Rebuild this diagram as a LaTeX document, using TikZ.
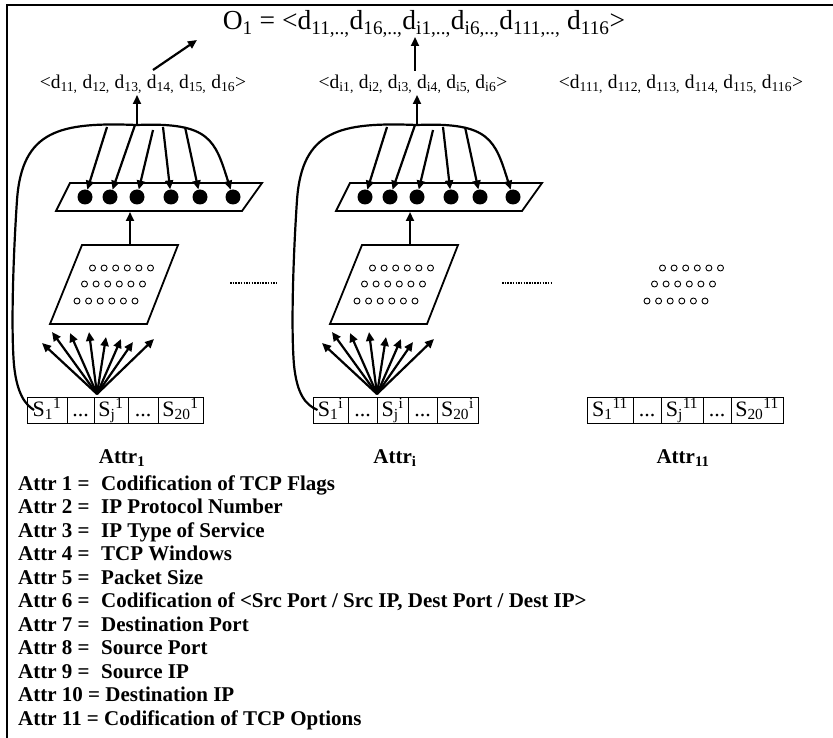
\documentclass[tikz,border=0pt]{standalone}
\usepackage{fontspec}
\setmainfont{Liberation Serif}
\usetikzlibrary{arrows.meta}
\tikzset{
  arr/.style={line width=2.2pt,-{Triangle[length=9pt,width=8pt]}},
  wire/.style={line width=2.2pt},
  para/.style={draw,line width=1.8pt},
  bigdot/.style={circle,fill=black,inner sep=0pt,minimum size=15pt},
  smallring/.style={circle,draw,line width=0.9pt,inner sep=0pt,minimum size=6pt},
  cell/.style={draw,line width=1pt,minimum height=26pt,inner sep=0pt,text height=17pt,text depth=4pt,font=\fontsize{22pt}{24pt}\selectfont},
  lab/.style={font=\bfseries\fontsize{21pt}{24pt}\selectfont,inner sep=0pt},
  vectxt/.style={font=\fontsize{19.5pt}{22pt}\selectfont,inner sep=0pt},
  dotline/.style={line width=2pt,dash pattern=on 1.5pt off 1.2pt},
}
\newcommand{\attrgroup}[2]{%
\begin{scope}[xshift=#2pt]
  \coordinate (#1top) at (137,125);
  \coordinate (#1up) at (137,95);
  \draw[arr] (#1top) -- (#1up);
  % output layer
  \draw[para] (70,183) -- (262,183) -- (242,211) -- (56,211) -- cycle;
  \foreach \k/\xx in {1/85,2/110,3/137,4/171,5/200,6/233}
    \node[bigdot] (#1o\k) at (\xx,197) {};
  % curves from the top point
  \draw[wire] (#1top) .. controls (60,122) and (22,130) .. (17,200)
     .. controls (13,260) and (11,330) .. (14,365)
     .. controls (17,395) and (26,405) .. ([xshift=-13pt]#1c1.center);
  \draw[arr] (#1top) .. controls (210,122) and (215,140) .. (#1o6);
  \coordinate (#1a1) at (107,127);
  \coordinate (#1a2) at (135,125);
  \coordinate (#1a3) at (153,130);
  \coordinate (#1a4) at (163,127);
  \coordinate (#1a5) at (185,127);
  \foreach \k in {1,...,5} \draw[arr] (#1a\k) -- (#1o\k);
  % hidden layer
  \draw[para] (82,245) -- (178,245) -- (147,324) -- (50,324) -- cycle;
  \coordinate (#1hid) at (130,245);
  \coordinate (#1out) at (130,212);
  \draw[arr] (#1hid) -- (#1out);
  \foreach \r/\xs/\yy in {0/92.5/268,1/84.5/284,2/77/301}
    \foreach \k in {0,...,5}
      \node[smallring] (#1h\r\k) at (\xs+11.6*\k,\yy) {};
  % fan from S_j
  \coordinate (#1fb) at (97,394);
  \foreach \k/\tx/\ty in {1/42/343,2/52/332,3/70/333,4/89/332,5/106/337,6/121/339,7/133/342,8/154/339}{
    \coordinate (#1f\k) at (\tx,\ty);
    \draw[arr] (#1fb) -- (#1f\k);
  }
\end{scope}}

\begin{document}
\begin{tikzpicture}[x=1pt,y=-1pt]
\useasboundingbox (0,0) rectangle (833,738);
% frame
\draw[line width=2.5pt] (833,5) -- (7,5) -- (7,738);

% title and output vectors
\node[font=\fontsize{27.5pt}{30pt}\selectfont,inner sep=0pt] (title) at (424,24)
  {O\textsubscript{1} = <d\textsubscript{11,..,}d\textsubscript{16,..,}d\textsubscript{i1,..,}d\textsubscript{i6,..,}d\textsubscript{111,..,} d\textsubscript{116}>};
\node[vectxt] (v1) at (143,84) {<d\textsubscript{11,} d\textsubscript{12,} d\textsubscript{13,} d\textsubscript{14,} d\textsubscript{15,} d\textsubscript{16}>};
\node[vectxt] (vi) at (413,84) {<d\textsubscript{i1,} d\textsubscript{i2,} d\textsubscript{i3,} d\textsubscript{i4,} d\textsubscript{i5,} d\textsubscript{i6}>};
\node[vectxt] (v11) at (681,84) {<d\textsubscript{111,} d\textsubscript{112,} d\textsubscript{113,} d\textsubscript{114,} d\textsubscript{115,} d\textsubscript{116}>};
\coordinate (d1s) at (153,70);
\coordinate (d1e) at (197,40);
\draw[arr] (d1s) -- (d1e);
\coordinate (dis) at (415,71);
\coordinate (die) at (415,37);
\draw[arr] (dis) -- (die);

% S rows
\node[cell,minimum width=40pt] (g1c1) at (47,410) {S\textsubscript{1}\textsuperscript{1}};
\node[cell,minimum width=27pt] (g1c2) at (80.5,410) {...};
\node[cell,minimum width=34pt] (g1c3) at (111,410) {S\textsubscript{j}\textsuperscript{1}};
\node[cell,minimum width=30pt] (g1c4) at (143,410) {...};
\node[cell,minimum width=45pt] (g1c5) at (180.5,410) {S\textsubscript{20}\textsuperscript{1}};

\node[cell,minimum width=35pt] (gic1) at (330.5,410) {S\textsubscript{1}\textsuperscript{i}};
\node[cell,minimum width=29pt] (gic2) at (362.5,410) {...};
\node[cell,minimum width=31pt] (gic3) at (392.5,410) {S\textsubscript{j}\textsuperscript{i}};
\node[cell,minimum width=29pt] (gic4) at (422.5,410) {...};
\node[cell,minimum width=41pt] (gic5) at (457.5,410) {S\textsubscript{20}\textsuperscript{i}};

\node[cell,minimum width=46pt] (gkc1) at (610,410) {S\textsubscript{1}\textsuperscript{11}};
\node[cell,minimum width=28pt] (gkc2) at (647,410) {...};
\node[cell,minimum width=42pt] (gkc3) at (682,410) {S\textsubscript{j}\textsuperscript{11}};
\node[cell,minimum width=28pt] (gkc4) at (717,410) {...};
\node[cell,minimum width=52pt] (gkc5) at (757,410) {S\textsubscript{20}\textsuperscript{11}};

% groups
\attrgroup{g1}{0}
\attrgroup{gi}{280}

% group 11 hidden neurons only
\foreach \r/\xs/\yy in {0/92.5/268,1/84.5/284,2/77/301}
  \foreach \k in {0,...,5}
    \node[smallring] (gkh\r\k) at (\xs+570+11.6*\k,\yy) {};

% dotted continuation marks
\draw[dotline] (230,283) -- (277,283);
\draw[dotline] (502,283) -- (552,283);

% attribute labels
\node[lab] (at1) at (122,458) {Attr\textsubscript{1}};
\node[lab] (ati) at (395,458) {Attr\textsubscript{i}};
\node[lab] (at11) at (683,458) {Attr\textsubscript{11}};

% legend
\foreach \n/\t [count=\c from 0] in {
  1/{Attr 1 =\hspace{0.55em}Codification of TCP Flags},
  2/{Attr 2 =\hspace{0.55em}IP Protocol Number},
  3/{Attr 3 =\hspace{0.55em}IP Type of Service},
  4/{Attr 4 =\hspace{0.55em}TCP Windows},
  5/{Attr 5 =\hspace{0.55em}Packet Size},
  6/{Attr 6 =\hspace{0.55em}Codification of <Src Port / Src IP, Dest Port / Dest IP>},
  7/{Attr 7 =\hspace{0.55em}Destination Port},
  8/{Attr 8 =\hspace{0.55em}Source Port},
  9/{Attr 9 =\hspace{0.55em}Source IP},
  10/{Attr 10 = Destination IP},
  11/{Attr 11 = Codification of TCP Options}}
  \node[lab,anchor=base west] (leg\n) at (18,490+23.5*\c) {\t};
\end{tikzpicture}
\end{document}
